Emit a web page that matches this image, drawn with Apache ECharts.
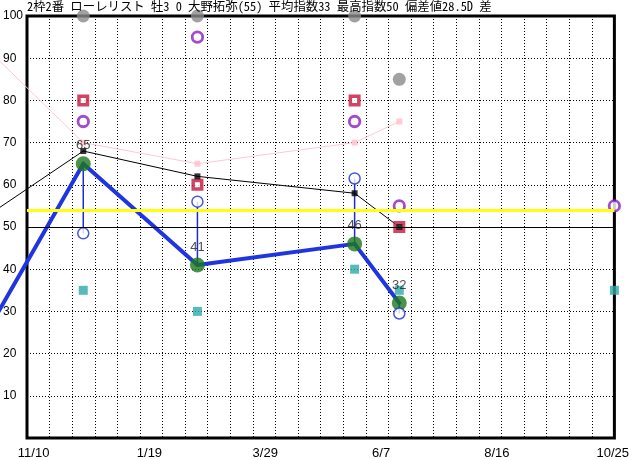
<!DOCTYPE html>
<html>
<head>
<meta charset="utf-8">
<script src="https://cdn.jsdelivr.net/npm/echarts@6/dist/echarts.min.js"></script>
<style>
  html, body { margin: 0; padding: 0; background: #fff; }
  #chart { width: 632px; height: 460px; }
</style>
</head>
<body>
<div id="chart"></div>
<script>
// ---- data (x values are days counted from 11/10) ----
const titleText = '2枠2番 ローレリスト 牡3 0 大野拓弥(55) 平均指数33 最高指数50 偏差値28.5D 差';
const dateLabels = ['11/10', '1/19', '3/29', '6/7', '8/16', '10/25'];
const labelDays = [0, 70, 140, 210, 280, 350];
const yTickLabels = ['', '10', '20', '30', '40', '50', '60', '70', '80', '90', '100'];

const raceDays = [30, 99, 194, 221];
const lineDays = [-38, 30, 99, 194, 221];          // includes the earlier race left of the chart
const indexValues = [65, 41, 46, 32];              // green circles
const indexLine = [18.5, 65, 41, 46, 32];          // thick blue line
const blueHollow = [48.5, 56, 61.5, 29.5];
const blackLine = [50, 68, 62, 58, 50];
const pinkLine = [96, 70, 65, 70, 75];
const redSquares = [80, 60, 80, 50];
const purpleRings = [75, 95, 75, 55];
const grayCircles = [100, 100, 100, 85];
const tealSquares = [35, 30, 40, 35];
const currentDay = [351];
const currentPurple = [55];
const currentTeal = [35];
const yellowLevel = 54;
const baseLevel = 50;

const pairs = (xs, ys) => xs.map((x, i) => [x, ys[i]]);
const segments = (xs, ys) => xs.slice(1).map((x, i) => [xs[i], ys[i], x, ys[i + 1]]);

function segmentSeries(xs, ys, color, width) {
  return {
    type: 'custom', clip: false, silent: true,
    data: segments(xs, ys),
    encode: { x: [0, 2], y: [1, 3] },
    renderItem: (params, api) => {
      const a = api.coord([api.value(0), api.value(1)]);
      const b = api.coord([api.value(2), api.value(3)]);
      return { type: 'line', shape: { x1: a[0], y1: a[1], x2: b[0], y2: b[1] },
               style: { stroke: color, lineWidth: width, lineCap: 'round' } };
    }
  };
}

const chart = echarts.init(document.getElementById('chart'), null, { renderer: 'canvas' });

const option = {
  animation: false,
  backgroundColor: '#fff',
  title: {
    text: titleText,
    left: 27, top: 0, padding: 0,
    textStyle: { fontSize: 12.4, fontWeight: 'normal', color: '#000',
                 fontFamily: '"Noto Sans Mono CJK JP", "Noto Sans CJK JP", monospace' }
  },
  grid: {
    left: 26, right: 15, top: 16, bottom: 19,
    show: true, borderColor: '#000', borderWidth: 3, backgroundColor: '#fff'
  },
  xAxis: [
    {
      type: 'value', min: -4, max: 351,
      axisLine: { show: false }, axisTick: { show: false }, splitLine: { show: false },
      axisLabel: {
        customValues: labelDays,
        formatter: (v) => { const i = labelDays.indexOf(v); return i >= 0 ? dateLabels[i] : ''; },
        fontSize: 13, color: '#000', fontFamily: 'Liberation Sans', margin: 9
      }
    },
    {
      type: 'value', min: 0, max: 26, interval: 1,
      axisLine: { show: false }, axisTick: { show: false }, axisLabel: { show: false },
      splitLine: { show: true, lineStyle: { color: '#000', width: 1, type: [1, 2] } }
    }
  ],
  yAxis: {
    type: 'value', min: 0, max: 100, interval: 10,
    axisLine: { show: false }, axisTick: { show: false },
    axisLabel: {
      formatter: (v) => yTickLabels[Math.round(v / 10)],
      align: 'left', margin: 24,
      fontSize: 12, color: '#000', fontFamily: 'Liberation Sans'
    },
    splitLine: { show: true, lineStyle: { color: '#000', width: 1, type: [1, 2] } }
  },
  series: [
    {
      type: 'line', data: [], silent: true,
      markLine: {
        silent: true, symbol: 'none', label: { show: false },
        data: [
          { yAxis: yellowLevel, lineStyle: { color: '#ffff10', width: 3, type: 'solid' } },
          { yAxis: baseLevel, lineStyle: { color: '#000', width: 1, type: 'solid' } }
        ]
      }
    },
    segmentSeries(lineDays, pinkLine, '#ffc8d2', 1),
    {
      type: 'scatter', data: pairs(raceDays, pinkLine.slice(1)),
      symbol: 'rect', symbolSize: 6,
      itemStyle: { color: '#ffbfcb' }
    },
    segmentSeries(lineDays, blackLine, '#000', 1),
    segmentSeries(lineDays, indexLine, '#1f35e0', 4),
    {
      type: 'scatter', data: pairs(raceDays, indexValues),
      symbol: 'circle', symbolSize: 15,
      itemStyle: { color: '#1d781d' },
      label: { show: true, position: 'top', distance: 4, color: '#222', fontSize: 13,
               fontFamily: 'Liberation Sans', formatter: (p) => String(p.value[1]) }
    },
    {
      type: 'custom',
      data: raceDays.map((d, i) => [d, indexValues[i], blueHollow[i]]),
      encode: { x: 0, y: [1, 2] },
      renderItem: (params, api) => {
        const a = api.coord([api.value(0), api.value(1)]);
        const b = api.coord([api.value(0), api.value(2)]);
        return { type: 'line', shape: { x1: a[0], y1: a[1], x2: b[0], y2: b[1] },
                 style: { stroke: '#1a2ed0', lineWidth: 1.5 } };
      }
    },
    {
      type: 'scatter', data: pairs(raceDays, blueHollow),
      symbol: 'circle', symbolSize: 11,
      itemStyle: { color: '#fff', borderColor: '#1a2ed0', borderWidth: 1.5 }
    },
    {
      type: 'scatter', data: pairs(raceDays, tealSquares).concat(pairs(currentDay, currentTeal)), clip: false,
      symbol: 'rect', symbolSize: 9,
      itemStyle: { color: '#2eaaa8' }
    },
    {
      type: 'scatter', data: pairs(raceDays, redSquares),
      symbol: 'rect', symbolSize: 8.5,
      itemStyle: { color: '#fff', borderColor: '#c8143c', borderWidth: 3.5 }
    },
    {
      type: 'scatter', data: pairs(raceDays, blackLine.slice(1)),
      symbol: 'rect', symbolSize: 6,
      itemStyle: { color: '#000' }
    },
    {
      type: 'scatter', data: pairs(raceDays, purpleRings).concat(pairs(currentDay, currentPurple)), clip: false,
      symbol: 'circle', symbolSize: 10.5,
      itemStyle: { color: '#fff', borderColor: '#8c1ec0', borderWidth: 2.8 }
    },
    {
      type: 'scatter', data: pairs(raceDays, grayCircles), clip: false,
      symbol: 'circle', symbolSize: 13,
      itemStyle: { color: '#8a8a8a' }
    }
  ]
};
chart.setOption(option);
</script>
</body>
</html>
